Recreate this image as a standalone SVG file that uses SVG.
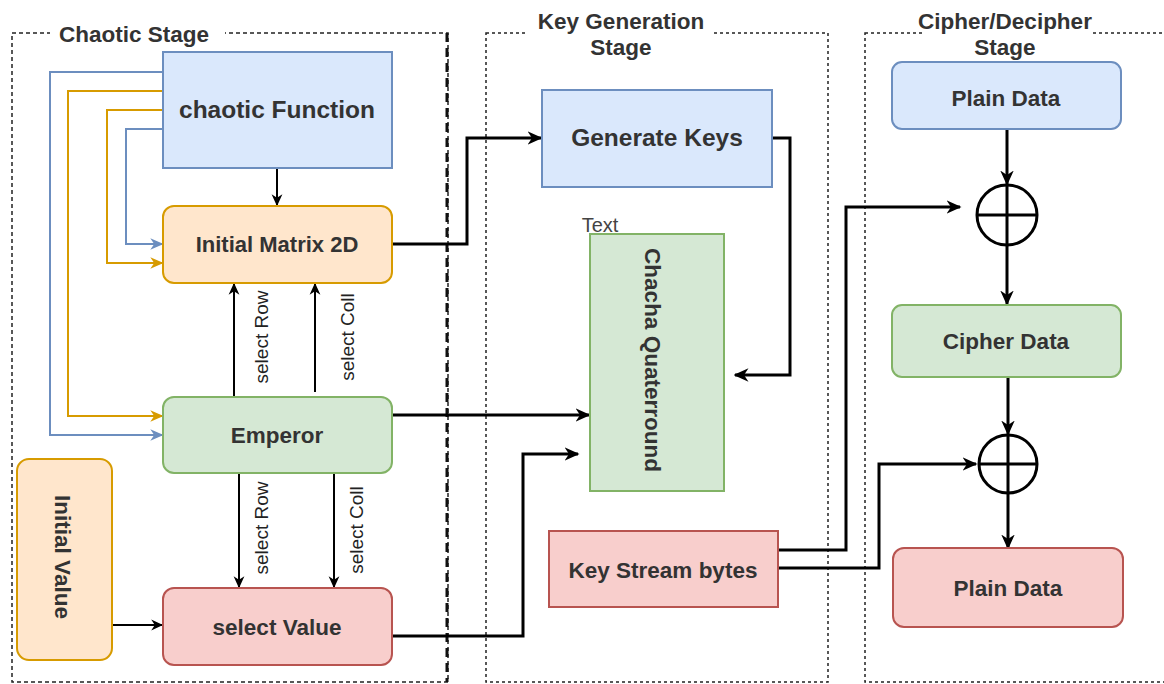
<svg xmlns="http://www.w3.org/2000/svg" width="1164" height="684" viewBox="0 0 1164 684">
<style>
.t{font-family:"Liberation Sans",Arial,sans-serif;font-weight:bold;fill:#333;text-anchor:middle}
.lbl{font-family:"Liberation Sans",Arial,sans-serif;font-weight:normal;fill:#222;text-anchor:middle;font-size:19px}
.blue{fill:#dae8fc;stroke:#6c8ebf;stroke-width:2}
.orange{fill:#ffe6cc;stroke:#d79b00;stroke-width:2}
.green{fill:#d5e8d4;stroke:#82b366;stroke-width:2}
.red{fill:#f8cecc;stroke:#b85450;stroke-width:2}
.thin{fill:none;stroke:#000;stroke-width:2}
.thick{fill:none;stroke:#000;stroke-width:3}
.cb{fill:none;stroke:#6c8ebf;stroke-width:2}
.co{fill:none;stroke:#d79b00;stroke-width:2}
</style>
<defs>
<marker id="ah" markerUnits="userSpaceOnUse" viewBox="0 0 10 10" refX="9" refY="5" markerWidth="15" markerHeight="15" orient="auto"><path d="M0,0.5 L10,5 L0,9.5 L3,5 z" fill="#000"/></marker>
<marker id="as" markerUnits="userSpaceOnUse" viewBox="0 0 10 10" refX="9" refY="5" markerWidth="12" markerHeight="12" orient="auto"><path d="M0,0.5 L10,5 L0,9.5 L3,5 z" fill="#000"/></marker>
<marker id="ab" markerUnits="userSpaceOnUse" viewBox="0 0 10 10" refX="9" refY="5" markerWidth="13" markerHeight="13" orient="auto"><path d="M0,0.5 L10,5 L0,9.5 L3,5 z" fill="#6c8ebf"/></marker>
<marker id="ao" markerUnits="userSpaceOnUse" viewBox="0 0 10 10" refX="9" refY="5" markerWidth="13" markerHeight="13" orient="auto"><path d="M0,0.5 L10,5 L0,9.5 L3,5 z" fill="#d79b00"/></marker>
</defs>
<rect width="1164" height="684" fill="#fff"/>

<g id="containers">
<rect x="12" y="33" width="436" height="649" fill="none" stroke="#222" stroke-width="1.5" stroke-dasharray="4 3"/>
<line x1="447" y1="33" x2="447" y2="682" stroke="#111" stroke-width="3" stroke-dasharray="9 6"/>
<rect x="486" y="33" width="342" height="649" fill="none" stroke="#222" stroke-width="1.5" stroke-dasharray="3 3"/>
<rect x="865" y="33" width="330" height="649" fill="none" stroke="#222" stroke-width="1.5" stroke-dasharray="3 3"/>
<rect x="50" y="24" width="175" height="18" fill="#fff"/>
<rect x="527" y="24" width="186" height="18" fill="#fff"/>
<rect x="922" y="24" width="171" height="18" fill="#fff"/>
<text class="t" x="134" y="42" font-size="22.5">Chaotic Stage</text>
<text class="t" x="621" y="29" font-size="22.5">Key Generation</text>
<text class="t" x="621" y="55" font-size="22.5">Stage</text>
<text class="t" x="1005" y="29" font-size="22.5">Cipher/Decipher</text>
<text class="t" x="1005" y="55" font-size="22.5">Stage</text>
</g>

<g id="connectors">
<path class="cb" d="M163,72 H50 V435 H162" marker-end="url(#ab)"/>
<path class="co" d="M163,91 H68 V416 H162" marker-end="url(#ao)"/>
<path class="co" d="M163,110 H107 V263 H162" marker-end="url(#ao)"/>
<path class="cb" d="M163,129 H126 V244 H162" marker-end="url(#ab)"/>
<path class="thin" d="M277,168 V205" marker-end="url(#as)"/>
<path class="thin" d="M234,397 V284" marker-end="url(#as)"/>
<path class="thin" d="M315,392 V284" marker-end="url(#as)"/>
<path class="thin" d="M239,473 V587" marker-end="url(#as)"/>
<path class="thin" d="M334,473 V587" marker-end="url(#as)"/>
<path class="thin" d="M112,625 H162" marker-end="url(#as)"/>
<path class="thick" d="M392,244 H467 V138 H541" marker-end="url(#ah)"/>
<path class="thick" d="M392,415 H589" marker-end="url(#ah)"/>
<path class="thick" d="M392,636 H523 V454 H578" marker-end="url(#ah)"/>
<path class="thick" d="M772,138 H790 V375 H735" marker-end="url(#ah)"/>
<path class="thick" d="M778,550 H846 V207 H960" marker-end="url(#ah)"/>
<path class="thick" d="M778,568 H879 V464 H976" marker-end="url(#ah)"/>
<path class="thick" d="M1007,129 V184" marker-end="url(#ah)"/>
<path class="thick" d="M1007,245 V304" marker-end="url(#ah)"/>
<path class="thick" d="M1008,377 V434" marker-end="url(#ah)"/>
<path class="thick" d="M1008,494 V548" marker-end="url(#ah)"/>
<text class="lbl" transform="translate(268,337) rotate(-90)">select Row</text>
<text class="lbl" transform="translate(354,337) rotate(-90)">select Coll</text>
<text class="lbl" transform="translate(268,528) rotate(-90)">select Row</text>
<text class="lbl" transform="translate(363,530) rotate(-90)">select Coll</text>
</g>

<g id="chaotic-function">
<rect class="blue" x="163" y="52" width="229" height="116"/>
<text class="t" x="277" y="118" font-size="24.5">chaotic Function</text>
</g>
<g id="initial-matrix">
<rect class="orange" x="163" y="206" width="229" height="77" rx="11"/>
<text class="t" x="277" y="252" font-size="22">Initial Matrix 2D</text>
</g>
<g id="emperor">
<rect class="green" x="163" y="397" width="229" height="76" rx="11"/>
<text class="t" x="277" y="443" font-size="22.5">Emperor</text>
</g>
<g id="initial-value">
<rect class="orange" x="17" y="459" width="95" height="201" rx="12"/>
<text class="t" transform="translate(55,557) rotate(90)" font-size="22.5">Initial Value</text>
</g>
<g id="select-value">
<rect class="red" x="163" y="588" width="229" height="77" rx="11"/>
<text class="t" x="277" y="635" font-size="22.5">select Value</text>
</g>
<g id="generate-keys">
<rect class="blue" x="542" y="90" width="230" height="97"/>
<text class="t" x="657" y="146" font-size="24.5">Generate Keys</text>
</g>
<g id="chacha">
<text x="600" y="232" font-family="Liberation Sans, Arial, sans-serif" font-size="20" fill="#444" text-anchor="middle">Text</text>
<rect class="green" x="590" y="234" width="134" height="257" stroke-width="1.5"/>
<text class="t" transform="translate(645,360) rotate(90)" font-size="22.5" fill="#111">Chacha Quaterround</text>
</g>
<g id="key-stream">
<rect class="red" x="549" y="531" width="229" height="76"/>
<text class="t" x="663" y="578" font-size="22.5">Key Stream bytes</text>
</g>
<g id="plain-data">
<rect class="blue" x="892" y="62" width="229" height="67" rx="10"/>
<text class="t" x="1006" y="106" font-size="22.5">Plain Data</text>
</g>
<g id="xor1">
<circle cx="1007" cy="215" r="30" fill="none" stroke="#000" stroke-width="3"/>
<path d="M977,215 H1037 M1007,185 V245" stroke="#000" stroke-width="3"/>
</g>
<g id="cipher-data">
<rect class="green" x="892" y="305" width="229" height="72" rx="10"/>
<text class="t" x="1006" y="349" font-size="22.5">Cipher Data</text>
</g>
<g id="xor2">
<circle cx="1008" cy="464" r="29" fill="none" stroke="#000" stroke-width="3"/>
<path d="M979,464 H1037 M1008,435 V493" stroke="#000" stroke-width="3"/>
</g>
<g id="plain-data-2">
<rect class="red" x="893" y="548" width="230" height="79" rx="11"/>
<text class="t" x="1008" y="596" font-size="22.5">Plain Data</text>
</g>
</svg>
